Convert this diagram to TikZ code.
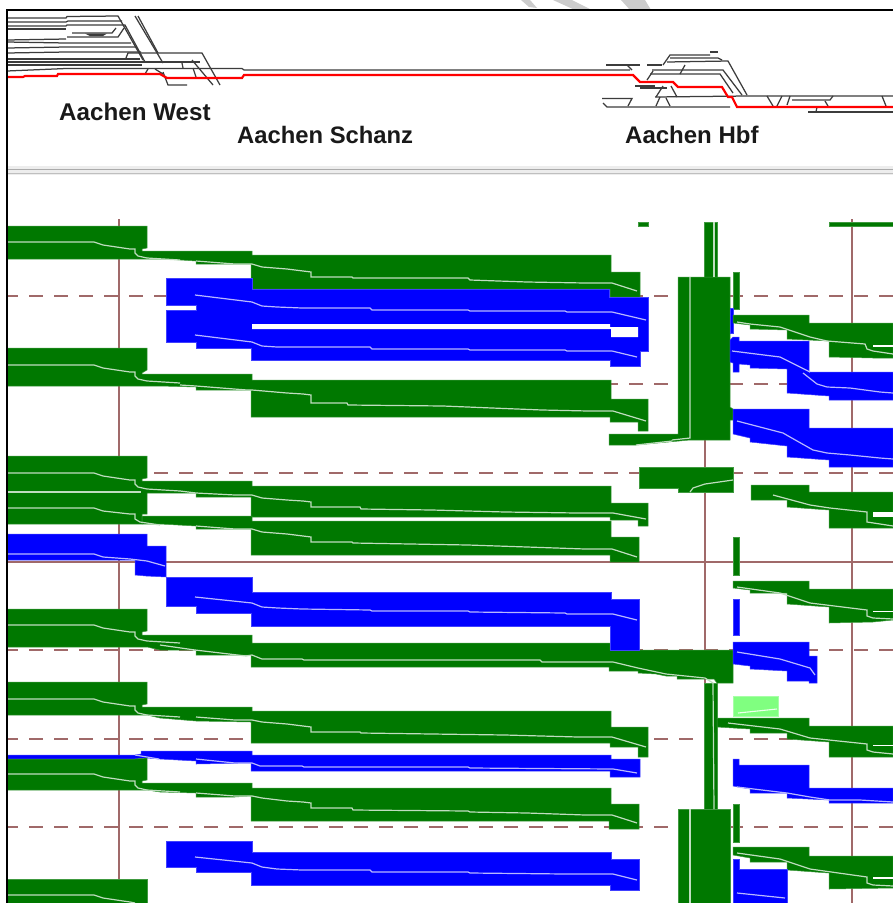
\documentclass[tikz,border=0pt]{standalone}
\usepackage{fontspec}
\setmainfont{Liberation Sans}
\definecolor{grn}{RGB}{0,120,0}
\definecolor{blu}{RGB}{0,0,255}
\definecolor{grid}{RGB}{160,105,105}
\definecolor{lgrn}{RGB}{128,255,128}
\definecolor{trk}{RGB}{60,60,60}
\tikzset{
  gb/.style={fill=grn,draw=grn!75!white,line width=.5pt},
  bb/.style={fill=blu,draw=blu!75!white,line width=.5pt},
  gl/.style={draw=white!75!grn,line width=1.2pt},
  bl/.style={draw=white!72!blu,line width=1.2pt},
  solidgrid/.style={draw=grid,line width=1.2pt},
  dashgrid/.style={draw=grid,line width=1.2pt,dash pattern=on 14pt off 11pt,dash phase=3pt},
  track/.style={draw=trk,line width=1.25pt},
  redtrack/.style={draw=red,line width=2.2pt},
  label/.style={font=\bfseries\fontsize{24.2}{28}\selectfont,text=black!90,inner sep=0pt,anchor=base west},
  wm/.style={fill=black!20}
}
\newcommand\lftg[1]{\draw[gl] (7,#1) -- (94,#1) -- (103,#1+3) -- (130,#1+7) -- (135,#1+7) -- (135,#1+11) -- (138,#1+14) -- (147,#1+16) -- (180,#1+18);}
\begin{document}
\begin{tikzpicture}[x=1pt,y=-1pt]
\useasboundingbox (0,0) rectangle (893,903);
\clip (0,0) rectangle (893,903);
\fill[white] (0,0) rectangle (893,903);
% watermark
\fill[wm] (621,0) -- (645,0) -- (651,10) -- (630,10) -- cycle;
\fill[wm] (553,0) -- (572,0) -- (592,10) -- (575,10) -- cycle;
\fill[wm] (521,0) -- (530,0) -- (537,8) -- (529,7) -- cycle;
% separator
\fill[black!7] (7,166) rectangle (893,175);
\draw[black!33,line width=1pt] (7,169.5) -- (893,169.5);
\draw[black!25,line width=1pt] (7,173) -- (893,173);
% grid
\foreach \yy in {296,384,473,650,739,827} \draw[dashgrid] (7,\yy) -- (893,\yy);
\draw[solidgrid] (7,562) -- (893,562);
\draw[solidgrid] (119,219) -- (119,903);
\draw[solidgrid] (705,222) -- (705,903);
\draw[solidgrid] (852,219) -- (852,903);
% west station tracks
\draw[track] (7,18) -- (66,18) -- (67,16.5) -- (118,16) -- (143,60);
\draw[track] (7,22) -- (66,22) -- (68,21) -- (122,21);
\draw[track] (7,26) -- (66,26) -- (67,25) -- (125,25) -- (145,62);
\draw[track] (7,29) -- (66,29);
\draw[track] (72,33) -- (112,33) -- (116,28);
\fill[trk] (85,33.5) -- (107,33.5) -- (103,36) -- (90,36) -- cycle;
\draw[track] (67,37) -- (118,37) -- (124,28);
\draw[track] (7,40) -- (66,39);
\draw[track] (7,42) -- (66,43) -- (131,43);
\draw[track] (7,48) -- (66,47) -- (137,47);
\draw[track] (7,53) -- (66,52) -- (141,52);
\draw[track] (7,59) -- (66,59) -- (140,59);
\draw[track] (7,62) -- (66,62) -- (140,62);
\draw[track] (7,65) -- (66,65) -- (142,65);
\draw[track] (7,71) -- (66,68.5) -- (242,68.5) -- (244,70) -- (607,70) -- (630,70);
\draw[track] (135,16) -- (163,63);
\draw[track] (138,16) -- (158,53);
\draw[track] (126,58) -- (128,53) -- (202,53) -- (220,85);
\draw[track] (138,62) -- (200,62);
\draw[track] (192,60) -- (213,85);
\draw[track] (193,68) -- (196,77);
\draw[track] (182,63) -- (183,68);
\draw[track] (148,69) -- (145,74);
\draw[track] (155,69) -- (163,74);
\draw[track] (163,72) -- (168,85) -- (187,85);
% Hbf tracks
\draw[track] (606,65) -- (640,65);
\draw[track] (647,65) -- (662,65);
\draw[track] (627,65) -- (632,70);
\draw[track] (663,65) -- (670,55) -- (710,55);
\draw[track] (710,52) -- (718,52);
\draw[track] (670,58) -- (718,58) -- (722,60);
\draw[track] (667,62) -- (728,61) -- (747,95);
\draw[track] (652,70) -- (723,70) -- (742,95);
\draw[track] (650,74) -- (720,74) -- (733,93);
\draw[track] (685,65) -- (680,74);
\draw[track] (653,71) -- (647,80);
\draw[track] (635,86) -- (655,86);
\draw[track] (640,88) -- (667,88);
\draw[track] (663,86) -- (656,97);
\draw[track] (671,86) -- (677,97);
\draw[track] (655,97) -- (747,96) -- (893,96);
\draw[track] (602,98.5) -- (632,98.5) -- (628,106);
\draw[track] (603,103) -- (607,107) -- (730,107);
\draw[track] (660,97) -- (656,106);
\draw[track] (666,98) -- (670,106);
\draw[track] (767,96) -- (773,106);
\draw[track] (782,96) -- (777,106);
\draw[track] (790,96) -- (787,105);
\draw[track] (792,100) -- (830,100) -- (833,96);
\draw[track] (825,101) -- (828,106);
\draw[track] (882,96) -- (886,106);
\draw[track] (808,112) -- (893,112);
\draw[track] (817,107) -- (816,112);
% red route
\draw[redtrack] (7,77) -- (23,77) -- (25,76) -- (57,76) -- (58,74) -- (160,74) -- (167,78) -- (242,78) -- (244,75) -- (633,75) -- (640,82) -- (673,82) -- (678,87) -- (722,87) -- (728,97) -- (732,97) -- (737,107) -- (893,107);
% labels
\node[label] (west) at (59,120) {Aachen West};
\node[label,font=\bfseries\fontsize{23.8}{28}\selectfont] (schanz) at (237,143) {Aachen Schanz};
\node[label,font=\bfseries\fontsize{24}{28}\selectfont] (hbf) at (625,143) {Aachen Hbf};
% central columns
\draw[gb] (704,222) rectangle (717,277);
\draw[gb] (704,683) rectangle (717,809);
\draw[gb] (678,277) -- (730,277) -- (730,407) -- (733,409) -- (733,420) -- (730,420) -- (730,440) -- (690,440) -- (636,445) -- (609,445) -- (609,434) -- (678,434) -- cycle;
\draw[gb] (678,809) rectangle (730,903);
\draw[gb] (638,222) rectangle (648,226);
\draw[gb] (829,222) rectangle (893,226);
\draw[gb] (733,272) rectangle (739,309);
\draw[bb] (730,308) rectangle (733,333);
\draw[gl] (714,222) -- (714,277);
\draw[gl] (690,277) -- (690,438) -- (672,440);
\draw[gl] (672,441) -- (636,445);
\draw[gl] (690,809) -- (690,903);
% G1
\draw[gb] (7,226) -- (147,226) -- (147,248) -- (142,249) -- (142,251) -- (252,251) -- (252,255) -- (611,255) -- (611,272) -- (640,272) -- (640,297) -- (610,297) -- (610,289) -- (251,289) -- (251,264) -- (196,264) -- (196,261) -- (165,259) -- (147,259) -- (7,259) -- cycle;
\lftg{242}
\draw[gl] (196,261) -- (235,264) -- (252,264) -- (262,267) -- (287,269) -- (303,271) -- (311,272) -- (311,277) -- (352,277) -- (353,278) -- (468,278) -- (470,280) -- (527,282) -- (585,283) -- (612,283) -- (637,291);
% B double
\draw[bb] (166,278) -- (252,278) -- (252,289) -- (609,289) -- (609,297) -- (648,297) -- (648,351) -- (640,351) -- (640,366) -- (610,366) -- (610,360) -- (251,360) -- (251,348) -- (196,348) -- (196,342) -- (166,342) -- (166,310) -- (196,310) -- (196,305) -- (166,305) -- cycle;
\fill[white] (252,324) -- (610,324) -- (610,327) -- (638,327) -- (638,337) -- (611,337) -- (611,329) -- (252,329) -- cycle;
\draw[bl] (195,295) -- (252,302) -- (262,306) -- (277,307) -- (302,308) -- (370,308) -- (372,310) -- (468,310) -- (470,311) -- (565,311) -- (567,312) -- (612,312) -- (646,320);
\draw[bl] (195,335) -- (252,342) -- (262,346) -- (277,347) -- (370,347) -- (372,349) -- (468,349) -- (470,350) -- (565,350) -- (567,351) -- (612,351) -- (637,357);
% G2
\draw[gb] (7,348) -- (147,348) -- (147,370) -- (142,373) -- (142,374) -- (252,374) -- (252,380) -- (611,380) -- (611,399) -- (648,399) -- (648,431) -- (638,431) -- (638,422) -- (610,422) -- (610,417) -- (251,417) -- (251,390) -- (196,390) -- (196,387) -- (160,386) -- (147,386) -- (7,386) -- cycle;
\lftg{365}
\draw[gl] (180,385) -- (196,386) -- (247,390) -- (252,390) -- (287,393) -- (303,394) -- (311,395) -- (311,403) -- (347,403) -- (348,405) -- (443,406) -- (492,408) -- (542,410) -- (588,411) -- (613,411) -- (646,421);
% G3 upper and lower
\draw[gb] (7,456) -- (147,456) -- (147,478) -- (142,479) -- (142,481) -- (252,481) -- (252,486) -- (611,486) -- (611,503) -- (648,503) -- (648,526) -- (638,526) -- (638,520) -- (610,520) -- (610,517) -- (251,517) -- (251,497) -- (196,497) -- (196,493) -- (147,493) -- (147,514) -- (142,514) -- (142,524) -- (7,524) -- cycle;
\draw[gb] (142,516) -- (252,516) -- (252,521) -- (611,521) -- (611,537) -- (639,537) -- (639,562) -- (610,562) -- (610,555) -- (251,555) -- (251,529) -- (196,529) -- (196,526) -- (160,524) -- (142,524) -- cycle;
\lftg{473}
\draw[gl] (180,491) -- (196,493) -- (235,495) -- (252,495) -- (262,498) -- (287,500) -- (303,501) -- (311,502) -- (311,507) -- (360,507) -- (361,509) -- (432,510) -- (505,512) -- (577,513) -- (613,513) -- (646,519);
\draw[gl] (7,492) -- (141,492);
\draw[gl] (7,508) -- (94,508) -- (103,511) -- (130,514) -- (135,514) -- (135,519) -- (140,522) -- (160,525);
\draw[gl] (196,526) -- (235,529) -- (252,529) -- (262,532) -- (287,534) -- (303,536) -- (311,537) -- (311,542) -- (352,542) -- (353,543) -- (468,545) -- (527,547) -- (585,549) -- (612,549) -- (637,557);
% B1
\draw[bb] (7,534) -- (147,534) -- (147,546) -- (166,546) -- (166,577) -- (146,576) -- (135,575) -- (135,560) -- (7,560) -- cycle;
\draw[bl] (7,554) -- (94,554) -- (103,557) -- (130,559) -- (147,561) -- (165,566);
\draw[gb] (7,609) -- (147,609) -- (147,631) -- (142,632) -- (142,635) -- (252,635) -- (252,643) -- (610,643) -- (610,650) -- (733,650) -- (733,683) -- (717,683) -- (714,679) -- (677,679) -- (677,676) -- (666,676) -- (656,674) -- (638,673) -- (638,671) -- (609,671) -- (609,667) -- (251,667) -- (251,655) -- (196,655) -- (196,650) -- (160,650) -- (147,647) -- (7,647) -- cycle;
\draw[bb] (166,577) -- (252,577) -- (252,592) -- (611,592) -- (611,599) -- (639,599) -- (639,650) -- (610,650) -- (610,626) -- (251,626) -- (251,613) -- (196,613) -- (196,606) -- (166,606) -- cycle;
\draw[bl] (195,597) -- (252,603) -- (262,607) -- (278,608) -- (302,609) -- (370,610) -- (372,611) -- (468,611) -- (470,612) -- (565,613) -- (567,614) -- (613,614) -- (637,620);
% G4 lines
\lftg{625}
\draw[gl] (160,645) -- (195,650) -- (246,656) -- (252,655) -- (262,659) -- (302,659) -- (304,660) -- (540,660) -- (542,662) -- (613,662) -- (638,668) -- (666,674) -- (705,678) -- (713,683) -- (714,809);
% G11
\draw[gb] (7,682) -- (147,682) -- (147,704) -- (142,705) -- (142,707) -- (252,707) -- (252,711) -- (611,711) -- (611,727) -- (648,727) -- (648,757) -- (638,757) -- (638,747) -- (610,747) -- (610,743) -- (251,743) -- (251,722) -- (196,721) -- (160,718) -- (147,715) -- (7,715) -- cycle;
\lftg{699}
\draw[gl] (196,717) -- (235,720) -- (252,720) -- (262,722) -- (287,724) -- (303,726) -- (311,727) -- (311,732) -- (360,732) -- (361,733) -- (432,734) -- (505,735) -- (578,737) -- (612,737) -- (646,747);
% B7
\draw[bb] (7,755) -- (135,755) -- (141,754) -- (141,751) -- (252,751) -- (252,755) -- (611,755) -- (611,759) -- (640,759) -- (640,777) -- (610,777) -- (610,771) -- (251,771) -- (251,763) -- (196,764) -- (196,761) -- (160,759) -- (147,758) -- (135,759) -- (7,759) -- cycle;
\draw[bl] (135,755) -- (159,759);
\draw[bl] (196,759) -- (235,763) -- (252,763) -- (260,766) -- (302,766) -- (304,767) -- (380,767) -- (468,767) -- (470,768) -- (613,769) -- (637,773);
% G12
\draw[gb] (7,759) -- (135,759) -- (147,758) -- (147,780) -- (142,781) -- (142,783) -- (252,783) -- (252,788) -- (611,788) -- (611,804) -- (639,804) -- (639,829) -- (609,829) -- (609,821) -- (251,821) -- (251,796) -- (235,797) -- (196,797) -- (196,793) -- (160,792) -- (147,790) -- (7,790) -- cycle;
\lftg{774}
\draw[gl] (196,793) -- (235,796) -- (252,796) -- (262,798) -- (287,801) -- (303,802) -- (311,803) -- (311,808) -- (352,808) -- (353,810) -- (468,811) -- (470,812) -- (527,813) -- (585,815) -- (612,815) -- (637,823);
% B8
\draw[bb] (166,841) -- (252,841) -- (252,852) -- (611,852) -- (611,859) -- (639,859) -- (639,890) -- (610,890) -- (610,885) -- (251,885) -- (251,872) -- (196,872) -- (196,867) -- (166,867) -- cycle;
\draw[bl] (195,857) -- (252,863) -- (262,867) -- (277,869) -- (302,870) -- (370,870) -- (372,872) -- (468,872) -- (470,873) -- (565,874) -- (613,874) -- (637,880);
% G13
\draw[gb] (7,879) -- (147,879) -- (147,903) -- (7,903) -- cycle;
\draw[gl] (7,895) -- (94,895) -- (103,898) -- (130,902) -- (135,903);
% centre right
\draw[gb] (639,467) -- (733,467) -- (733,492) -- (678,492) -- (678,488) -- (639,488) -- cycle;
\draw[gl] (690,492) -- (693,488) -- (705,484) -- (733,480);
\draw[gb] (733,537) rectangle (739,575);
\draw[bb] (733,599) rectangle (739,635);
\draw[gb] (733,804) rectangle (739,842);
\draw[fill=lgrn,draw=lgrn!70!white,line width=.5pt] (733,696) rectangle (778,716);
\draw[white!85!lgrn,line width=1.1pt] (738,713) -- (777,709);
% G5
\draw[gb] (733,315) -- (809,315) -- (809,323) -- (893,323) -- (893,358) -- (873,358) -- (829,357) -- (829,341) -- (787,339) -- (787,330) -- (750,329) -- (750,325) -- (733,323) -- cycle;
\fill[white] (873,345) rectangle (893,347);
\draw[gl] (737,322) -- (750,324) -- (780,327) -- (810,337) -- (827,341) -- (865,344) -- (867,349) -- (873,351) -- (893,354);
% B2
\draw[bb] (733,337) -- (739,337) -- (739,341) -- (809,341) -- (809,372) -- (893,372) -- (893,400) -- (829,400) -- (829,396) -- (787,393) -- (787,369) -- (750,368) -- (750,365) -- (739,364) -- (739,372) -- (733,372) -- (733,363) -- (730,362) -- (730,340) -- cycle;
\draw[bl] (732,351) -- (780,357) -- (790,362) -- (810,372);
\draw[bl] (803,373) -- (817,384) -- (827,387) -- (850,388) -- (880,392) -- (893,393);
% B3
\draw[bb] (733,409) -- (809,409) -- (809,428) -- (893,428) -- (893,467) -- (829,467) -- (829,460) -- (787,457) -- (787,446) -- (750,442) -- (750,438) -- (733,434) -- cycle;
\draw[bl] (737,421) -- (783,433) -- (790,437) -- (813,450) -- (827,453) -- (850,455) -- (880,458) -- (893,459);
% G7
\draw[gb] (751,485) -- (809,485) -- (809,492) -- (893,492) -- (893,528) -- (829,528) -- (829,510) -- (787,507) -- (787,500) -- (751,500) -- cycle;
\fill[white] (873,512) rectangle (893,517);
\draw[gl] (773,495) -- (810,505) -- (830,508) -- (867,512) -- (867,522) -- (893,526);
% G8
\draw[gb] (733,581) -- (809,581) -- (809,589) -- (893,589) -- (893,620) -- (873,622) -- (829,623) -- (829,607) -- (787,604) -- (787,593) -- (750,593) -- (750,590) -- (733,588) -- cycle;
\fill[white] (873,610.5) rectangle (893,612);
\draw[gl] (737,587) -- (780,593) -- (810,603) -- (867,610) -- (867,616) -- (873,618) -- (893,619);
% B4
\draw[bb] (733,642) -- (809,642) -- (809,656) -- (817,656) -- (817,683) -- (809,683) -- (809,681) -- (787,681) -- (787,671) -- (750,669) -- (750,666) -- (733,664) -- cycle;
\draw[bl] (737,652) -- (780,659) -- (810,668) -- (815,675);
% G9
\draw[gb] (717,718) -- (809,718) -- (809,726) -- (893,726) -- (893,757) -- (829,757) -- (829,742) -- (787,739) -- (787,733) -- (750,733) -- (750,729) -- (717,727) -- cycle;
\fill[white] (873,744.5) rectangle (893,746);
\draw[gl] (728,723) -- (780,729) -- (810,738) -- (867,744) -- (867,750) -- (873,752) -- (893,754);
% B5
\draw[bb] (733,759) -- (739,759) -- (739,765) -- (809,765) -- (809,788) -- (893,788) -- (893,803) -- (829,803) -- (829,800) -- (787,798) -- (787,793) -- (750,793) -- (750,789) -- (733,786) -- cycle;
\draw[bl] (737,787) -- (787,793) -- (810,797) -- (830,800) -- (860,800) -- (893,802);
% G10
\draw[gb] (733,847) -- (809,847) -- (809,856) -- (893,856) -- (893,888) -- (829,889) -- (829,873) -- (787,870) -- (787,862) -- (750,862) -- (750,858) -- (733,855) -- cycle;
\fill[white] (873,877) rectangle (893,878.5);
\draw[gl] (737,853) -- (780,859) -- (810,869) -- (867,877) -- (867,883) -- (873,885) -- (893,886);
% B6
\draw[bb] (733,859) -- (739,859) -- (739,869) -- (787,869) -- (787,903) -- (733,903) -- cycle;
\draw[bl] (737,893) -- (785,898);
% frame
\draw[black,line width=1.8pt] (7,903) -- (7,10) -- (893,10);
\end{tikzpicture}
\end{document}
